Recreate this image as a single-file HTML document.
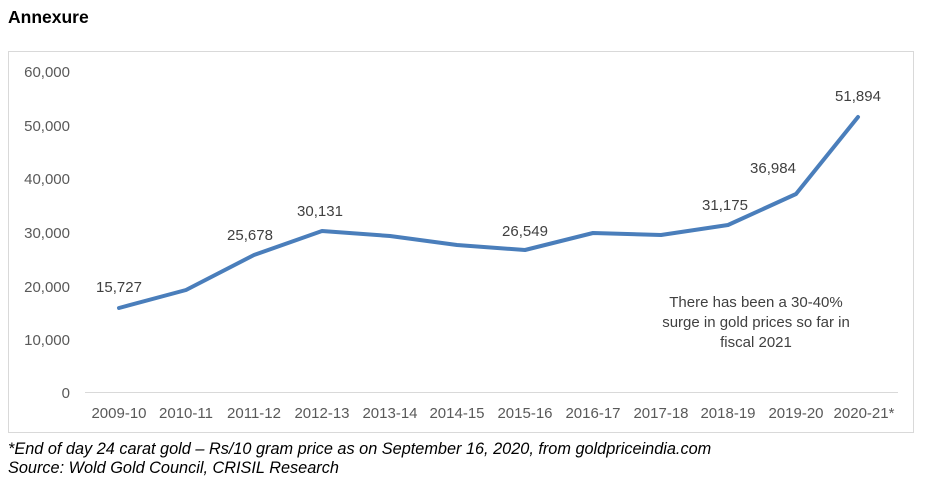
<!DOCTYPE html>
<html><head><style>
body{margin:0;background:#fff;width:937px;height:490px;overflow:hidden;font-family:"Liberation Sans",Arial,sans-serif}
</style></head><body>
<svg width="937" height="490" xmlns="http://www.w3.org/2000/svg" font-family="Liberation Sans, Arial, sans-serif">
<text x="8" y="23" font-size="17.5" font-weight="bold" fill="#000">Annexure</text>
<rect x="8.5" y="51.5" width="905" height="381" fill="none" stroke="#d9d9d9" stroke-width="1"/>
<line x1="85" y1="392.5" x2="898" y2="392.5" stroke="#d9d9d9"/>
<g font-size="15" fill="#595959" text-anchor="end">
<text x="70" y="77">60,000</text>
<text x="70" y="131">50,000</text>
<text x="70" y="184">40,000</text>
<text x="70" y="238">30,000</text>
<text x="70" y="292">20,000</text>
<text x="70" y="345">10,000</text>
<text x="70" y="398">0</text>
</g>
<g font-size="15" fill="#595959" text-anchor="middle">
<text x="119" y="418">2009-10</text><text x="186" y="418">2010-11</text><text x="254" y="418">2011-12</text><text x="322" y="418">2012-13</text><text x="390" y="418">2013-14</text><text x="457" y="418">2014-15</text><text x="525" y="418">2015-16</text><text x="593" y="418">2016-17</text><text x="661" y="418">2017-18</text><text x="728" y="418">2018-19</text><text x="796" y="418">2019-20</text><text x="864" y="418">2020-21*</text>
</g>
<polyline fill="none" stroke="#4a7ebb" stroke-width="4" stroke-linejoin="round" stroke-linecap="round"
points="119,308 186,290 254,255 322,231 390,236 457,245 525,250 593,233 661,235 728,225 796,194 858,117"/>
<g font-size="15" fill="#404040" text-anchor="middle">
<text x="119" y="292">15,727</text>
<text x="250" y="240">25,678</text>
<text x="320" y="216">30,131</text>
<text x="525" y="236">26,549</text>
<text x="725" y="210">31,175</text>
<text x="773" y="173">36,984</text>
<text x="858" y="101">51,894</text>
<text x="756" y="307">There has been a 30-40%</text>
<text x="756" y="327">surge in gold prices so far in</text>
<text x="756" y="347">fiscal 2021</text>
</g>
<g font-size="16.3" font-style="italic" fill="#000">
<text x="8" y="454">*End of day 24 carat gold – Rs/10 gram price as on September 16, 2020, from goldpriceindia.com</text>
<text x="8" y="473">Source: Wold Gold Council, CRISIL Research</text>
</g>
</svg>
</body></html>
